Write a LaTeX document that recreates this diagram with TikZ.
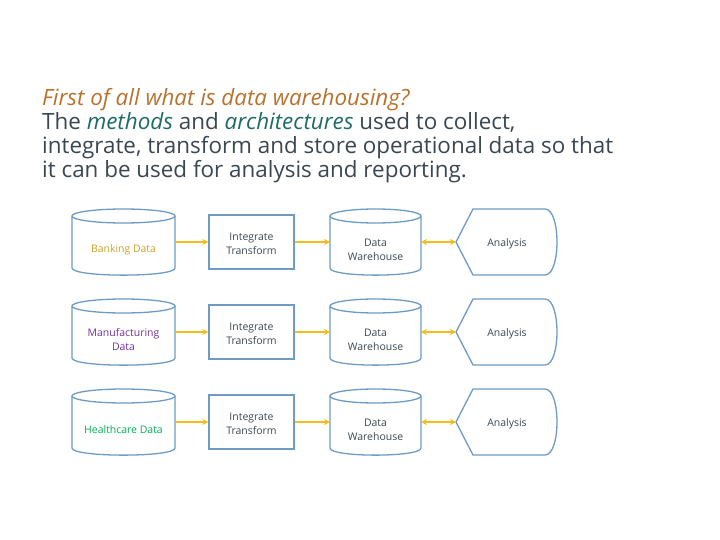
\documentclass[tikz,border=0pt]{standalone}
\usepackage{fontspec}
\setmainfont{Open Sans}
\usetikzlibrary{arrows.meta}
\definecolor{bord}{HTML}{6E9BC5}
\definecolor{arr}{HTML}{F2BC1B}
\definecolor{ttl}{HTML}{B8722E}
\definecolor{teal}{HTML}{1E6B65}
\definecolor{txt}{HTML}{3A4750}
\tikzset{
 shp/.style={draw=bord,line width=1.3pt},
 box/.style={shp,minimum width=85bp,minimum height=54bp},
 lbl/.style={align=center,font=\fontsize{10.5}{14}\selectfont\color{txt}},
 ar/.style={draw=arr,line width=1.3pt,-{Stealth[length=6pt,width=6pt]}},
 ar2/.style={draw=arr,line width=1.3pt,{Stealth[length=6pt,width=6pt]}-{Stealth[length=6pt,width=6pt]}},
}
\begin{document}
\begin{tikzpicture}[x=1bp,y=-1bp]
\useasboundingbox (0,0) rectangle (720,540);
\node[anchor=north west,inner sep=0,align=left,font=\fontsize{22.5}{24}\selectfont\color{txt}] (title) at (42,88)
 {\textcolor{ttl}{\itshape First of all what is data warehousing?}\\
 The \textcolor{teal}{\itshape methods} and \textcolor{teal}{\itshape architectures} used to collect,\\
 integrate, transform and store operational data so that\\
 it can be used for analysis and reporting.};
\foreach \i/\name/\col in {0/Banking Data/C9A227,1/Manufacturing\\Data/7030A0,2/Healthcare Data/00B050}{
 \pgfmathsetmacro{\y}{242+90*\i}
 \definecolor{src}{HTML}{\col}
 % source cylinder
 \draw[shp] (72,\y-26) -- (72,\y+26) .. controls (72,\y+35.5) and (175,\y+35.5) .. (175,\y+26) -- (175,\y-26);
 \draw[shp] (123.5,\y-26) ellipse[x radius=51.5,y radius=7];
 \coordinate (s\i) at (175,\y);
 \node[lbl,text=src] (sl\i) at (123.5,\y+8) {\name};
 \node[box] (t\i) at (251.5,\y) {};
 \node[lbl] (tl\i) at (251.5,\y+1.5) {Integrate\\Transform};
 % warehouse cylinder
 \draw[shp] (330,\y-26) -- (330,\y+26) .. controls (330,\y+35.5) and (421,\y+35.5) .. (421,\y+26) -- (421,\y-26);
 \draw[shp] (375.5,\y-26) ellipse[x radius=45.5,y radius=7];
 \coordinate (wl\i) at (330,\y);
 \coordinate (wr\i) at (421,\y);
 \node[lbl] (wn\i) at (375.5,\y+8) {Data\\Warehouse};
 \coordinate (a\i) at (456,\y);
 \draw[shp] (456,\y) -- (473,\y-33) -- (545,\y-33) .. controls (561,\y-33) and (561,\y+33) .. (545,\y+33) -- (473,\y+33) -- cycle;
 \node[lbl] (n\i) at (507,\y+2) {Analysis};
 \draw[ar] (s\i) -- (t\i.west);
 \draw[ar] (t\i.east) -- (wl\i);
 \draw[ar2] (wr\i) -- (a\i);
}
\end{tikzpicture}
\end{document}
